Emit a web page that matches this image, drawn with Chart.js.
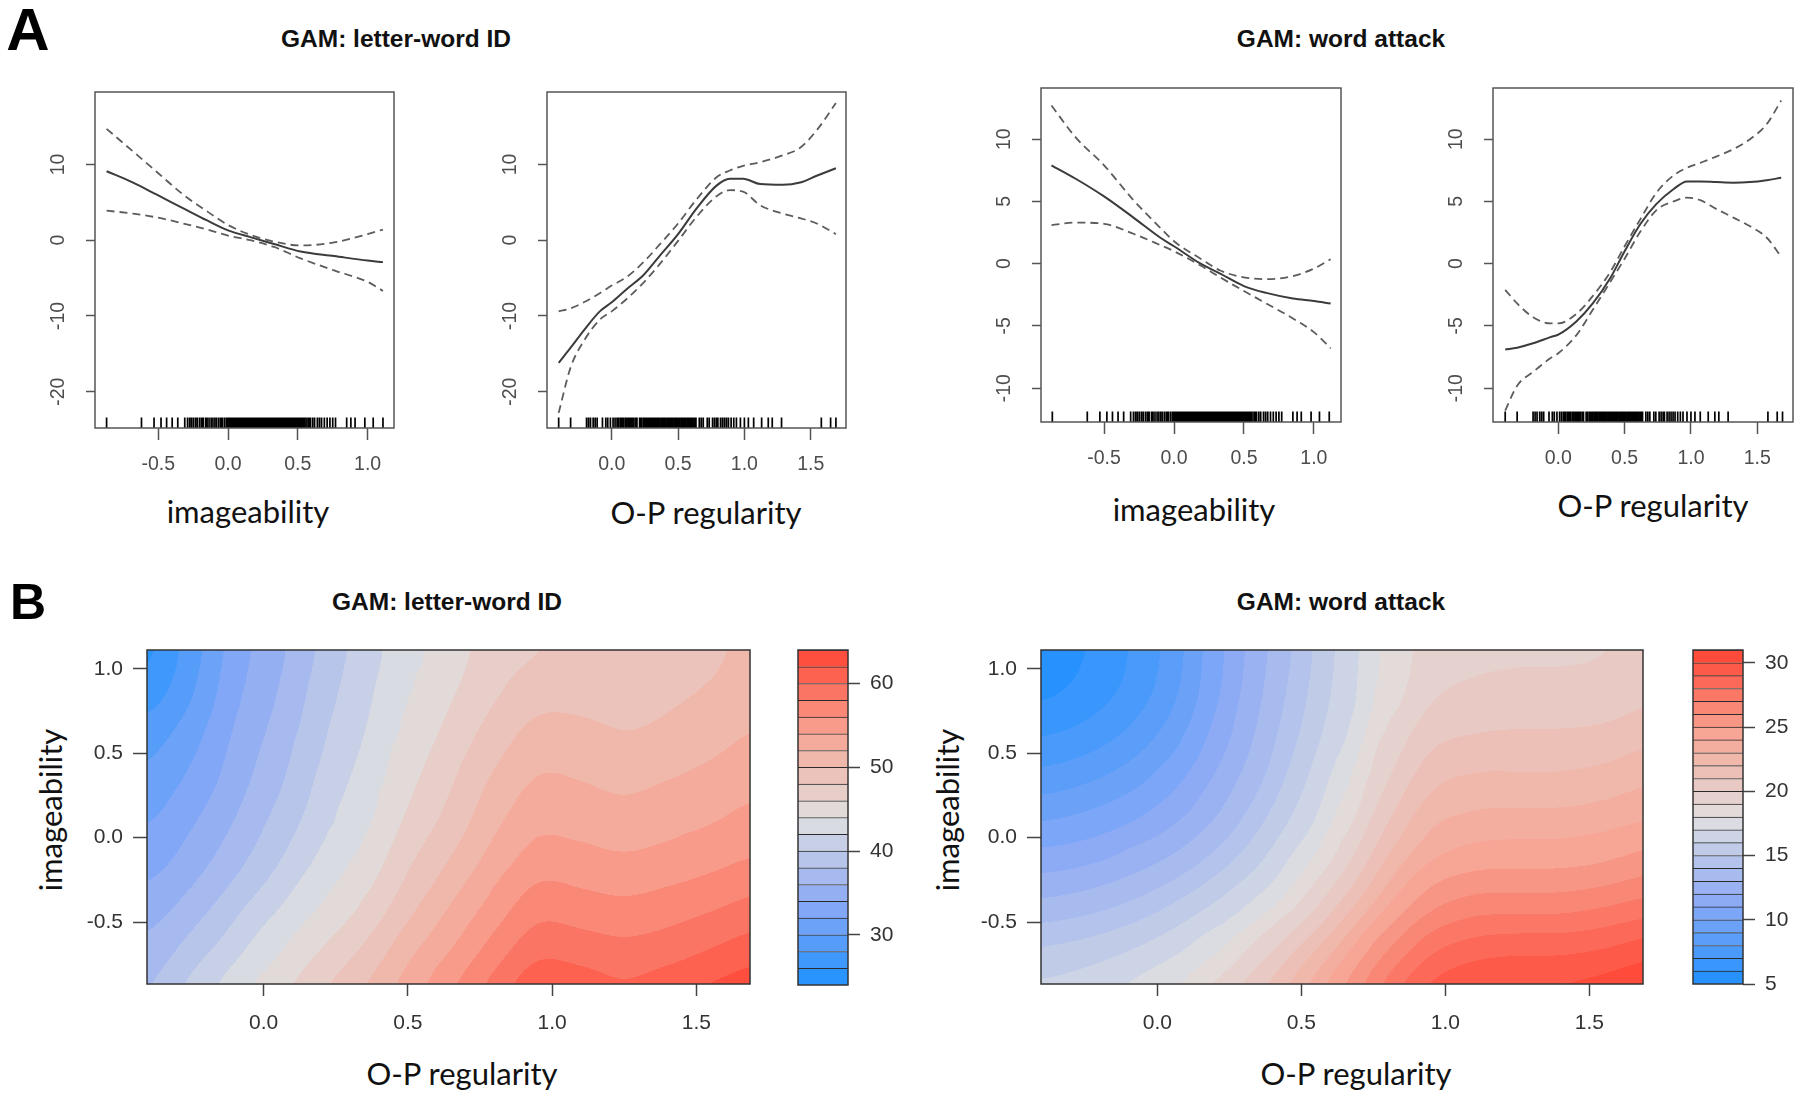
<!DOCTYPE html>
<html>
<head>
<meta charset="utf-8">
<title>GAM: letter-word ID / word attack</title>
<script src="https://cdn.jsdelivr.net/npm/chart.js@4.4.1/dist/chart.umd.min.js"></script>
<style>
  body { margin: 0; background: #fff; }
  #page { position: relative; width: 1800px; height: 1097px; overflow: hidden; background: #fff; }
  canvas { position: absolute; }
  .t { position: absolute; white-space: nowrap; line-height: 1; transform: translate(-50%, -50%); color: #111; }
  .letter { font: bold 60px "Liberation Sans", Arial, sans-serif; color: #000; }
  .title { font: bold 24.5px "Liberation Sans", Arial, sans-serif; color: #111; }
  .axt { font: 31px Lato, "Open Sans", sans-serif; color: #111; }
  .rot { transform: translate(-50%, -50%) rotate(-90deg); }
</style>
</head>
<body>
<div id="page">
  <div class="t letter" style="left:28px;top:29px">A</div>
  <div class="t title" style="left:396px;top:39px">GAM: letter-word ID</div>
  <div class="t title" style="left:1341px;top:39px">GAM: word attack</div>
  <canvas id="a1"></canvas>
  <canvas id="a2"></canvas>
  <canvas id="a3"></canvas>
  <canvas id="a4"></canvas>
  <div class="t axt" style="left:248px;top:511px">imageability</div>
  <div class="t axt" style="left:706px;top:512px">O-P regularity</div>
  <div class="t axt" style="left:1194px;top:509px">imageability</div>
  <div class="t axt" style="left:1653px;top:505px">O-P regularity</div>

  <div class="t letter" style="left:28px;top:602px;font-size:50px">B</div>
  <div class="t title" style="left:447px;top:602px">GAM: letter-word ID</div>
  <div class="t title" style="left:1341px;top:602px">GAM: word attack</div>
  <canvas id="b1"></canvas>
  <canvas id="k1"></canvas>
  <canvas id="b2"></canvas>
  <canvas id="k2"></canvas>
  <div class="t axt rot" style="left:50px;top:810px">imageability</div>
  <div class="t axt rot" style="left:947px;top:810px">imageability</div>
  <div class="t axt" style="left:462px;top:1073px">O-P regularity</div>
  <div class="t axt" style="left:1356px;top:1073px">O-P regularity</div>
</div>
<script>
// ---- A: smooth terms (fit and +/- 2 se) ----
const imgTicksX = [-0.5, 0, 0.5, 1.0];
const opTicksX = [0, 0.5, 1.0, 1.5];
const lwTicksY = [-20, -10, 0, 10];
const waTicksY = [-10, -5, 0, 5, 10];

const lwImgX = [-0.87, -0.68, -0.51, -0.32, -0.15, 0.0, 0.16, 0.33, 0.52, 0.76, 1.0, 1.11];
const lwImgFit = [9.1, 7.6, 6.0, 4.2, 2.6, 1.3, 0.4, -0.5, -1.5, -2.1, -2.7, -2.9];
const lwImgUpper = [14.7, 11.7, 9.0, 6.0, 3.8, 2.0, 0.7, -0.2, -0.7, -0.3, 0.8, 1.4];
const lwImgLower = [3.9, 3.5, 3.0, 2.2, 1.4, 0.6, 0.0, -0.9, -2.4, -4.0, -5.5, -6.7];

const lwOpX = [-0.40, -0.31, -0.21, -0.09, 0.0, 0.11, 0.24, 0.36, 0.50, 0.64, 0.79, 0.89, 0.99, 1.12, 1.29, 1.42, 1.545, 1.69];
const lwOpFit = [-16.2, -14.2, -11.9, -9.4, -8.2, -6.5, -4.6, -2.1, 0.8, 4.2, 7.2, 8.1, 8.1, 7.4, 7.3, 7.6, 8.5, 9.5];
const lwOpUpper = [-9.4, -9.0, -8.2, -7.0, -6.0, -4.9, -2.9, -0.6, 2.2, 5.4, 8.3, 9.2, 9.8, 10.3, 11.2, 12.2, 14.5, 18.1];
const lwOpLower = [-22.8, -16.8, -13.3, -10.5, -9.4, -7.8, -5.6, -3.2, -0.1, 3.1, 5.8, 6.6, 6.4, 4.6, 3.5, 2.9, 2.2, 0.8];

const waImgX = [-0.876, -0.70, -0.50, -0.29, -0.10, 0.0, 0.19, 0.33, 0.50, 0.66, 0.85, 1.0, 1.12];
const waImgFit = [7.9, 6.8, 5.4, 3.7, 2.1, 1.4, 0.0, -0.8, -1.8, -2.35, -2.8, -3.0, -3.2];
const waImgUpper = [12.7, 10.1, 7.9, 5.1, 2.9, 1.8, 0.4, -0.55, -1.1, -1.25, -1.0, -0.4, 0.35];
const waImgLower = [3.1, 3.3, 3.2, 2.4, 1.5, 1.0, -0.15, -1.1, -2.2, -3.2, -4.4, -5.5, -6.8];

const waOpX = [-0.40, -0.31, -0.19, -0.06, 0.0, 0.14, 0.26, 0.39, 0.50, 0.62, 0.74, 0.87, 0.97, 1.07, 1.19, 1.32, 1.445, 1.57, 1.68];
const waOpFit = [-6.9, -6.75, -6.4, -5.9, -5.7, -4.6, -3.2, -1.2, 1.0, 3.2, 4.8, 6.0, 6.6, 6.6, 6.55, 6.5, 6.55, 6.7, 6.9];
const waOpUpper = [-2.1, -3.2, -4.3, -4.8, -4.8, -4.0, -2.6, -0.7, 1.4, 3.6, 5.7, 7.1, 7.7, 8.1, 8.6, 9.2, 10.0, 11.2, 13.1];
const waOpLower = [-11.8, -9.8, -8.7, -7.6, -7.2, -5.7, -3.7, -1.5, 0.4, 2.6, 4.3, 5.0, 5.3, 5.1, 4.4, 3.7, 3.0, 2.1, 0.55];

// rug (observed covariate values)
const rugImageability = [-0.87, -0.62, -0.53, -0.48, -0.44, -0.40, -0.36, -0.31, -0.29, -0.275, -0.262, -0.248, -0.233, -0.22, -0.204,
  -0.19, -0.178, -0.161, -0.15, -0.136, -0.121, -0.108, -0.094, -0.081, -0.066, -0.052, -0.041, -0.026, -0.012, 0.0, 0.011,
  0.023, 0.035, 0.046, 0.058, 0.069, 0.08, 0.092, 0.104, 0.115, 0.126, 0.138, 0.149, 0.161, 0.173, 0.184, 0.195, 0.207,
  0.219, 0.23, 0.241, 0.253, 0.265, 0.276, 0.287, 0.299, 0.31, 0.322, 0.334, 0.345, 0.356, 0.368, 0.379, 0.391, 0.403,
  0.414, 0.425, 0.437, 0.449, 0.46, 0.471, 0.483, 0.495, 0.506, 0.517, 0.529, 0.541, 0.552, 0.565, 0.578, 0.59, 0.606,
  0.62, 0.64, 0.655, 0.67, 0.69, 0.71, 0.73, 0.75, 0.77, 0.85, 0.88, 0.91, 0.98, 1.04, 1.11];
const rugRegularity = [-0.40, -0.31, -0.19, -0.175, -0.16, -0.14, -0.125, -0.11, -0.07, -0.045, -0.03, -0.01, 0.01, 0.025,
  0.04, 0.052, 0.066, 0.078, 0.09, 0.104, 0.115, 0.128, 0.141, 0.152, 0.165, 0.179, 0.19, 0.21, 0.222, 0.236, 0.247,
  0.26, 0.273, 0.285, 0.297, 0.31, 0.323, 0.335, 0.347, 0.36, 0.373, 0.385, 0.397, 0.41, 0.423, 0.435, 0.447, 0.46,
  0.473, 0.485, 0.497, 0.51, 0.523, 0.535, 0.547, 0.56, 0.573, 0.585, 0.597, 0.61, 0.623, 0.635, 0.66, 0.675, 0.69,
  0.72, 0.735, 0.76, 0.775, 0.79, 0.80, 0.82, 0.835, 0.85, 0.865, 0.88, 0.90, 0.92, 0.94, 0.97, 1.0, 1.03, 1.07,
  1.13, 1.18, 1.21, 1.28, 1.58, 1.65, 1.69];

// ---- B: fitted surfaces, rows from top (imageability high) to bottom ----
const gridX = [-0.40, -0.25, -0.10, 0.05, 0.20, 0.35, 0.50, 0.65, 0.80, 0.95, 1.10, 1.25, 1.40, 1.55, 1.70];
const gridY = [1.10, 0.85, 0.60, 0.35, 0.10, -0.15, -0.40, -0.65, -0.90];
const lwSurface = [
  [25.5, 29.0, 33.0, 35.5, 38.5, 41.0, 43.3, 45.2, 47.0, 48.0, 48.6, 48.9, 49.1, 49.6, 50.4],
  [27.0, 29.8, 33.5, 36.0, 39.0, 41.5, 44.0, 45.9, 47.8, 49.3, 49.4, 49.3, 49.6, 50.2, 51.0],
  [29.0, 31.2, 34.2, 36.8, 39.7, 42.1, 44.7, 46.8, 49.0, 50.8, 50.6, 50.1, 50.5, 51.3, 52.1],
  [30.5, 32.4, 35.0, 37.6, 40.4, 42.8, 45.5, 47.8, 50.3, 52.2, 51.9, 51.4, 51.9, 52.6, 53.4],
  [31.8, 33.6, 36.0, 38.6, 41.3, 43.6, 46.4, 48.8, 51.5, 53.5, 53.2, 52.8, 53.3, 54.0, 54.7],
  [33.2, 35.0, 37.4, 40.0, 42.6, 44.8, 47.7, 50.2, 53.0, 55.2, 54.9, 54.5, 54.9, 55.5, 56.3],
  [34.8, 36.8, 39.3, 41.8, 44.2, 46.3, 49.3, 52.0, 54.8, 57.2, 56.8, 56.4, 56.9, 57.6, 58.5],
  [36.5, 38.8, 41.3, 43.8, 46.0, 48.2, 51.2, 54.0, 56.8, 59.4, 58.9, 58.4, 59.0, 60.0, 61.0],
  [38.0, 40.6, 43.2, 45.5, 47.8, 50.0, 53.0, 55.9, 58.8, 61.8, 61.3, 60.4, 61.3, 62.3, 63.2]
];
const waSurface = [
  [5.2, 6.0, 7.0, 8.4, 10.6, 12.6, 14.5, 16.4, 18.3, 19.5, 19.8, 19.9, 19.9, 20.0, 20.3],
  [5.8, 6.4, 7.3, 8.7, 10.8, 12.8, 14.7, 16.6, 18.5, 19.9, 20.2, 20.3, 20.3, 20.4, 20.8],
  [7.0, 7.4, 8.2, 9.5, 11.3, 13.2, 15.1, 17.0, 19.2, 20.7, 21.1, 21.2, 21.2, 21.3, 21.7],
  [8.4, 8.8, 9.5, 10.6, 12.1, 13.8, 15.7, 17.7, 20.0, 21.7, 22.2, 22.2, 22.2, 22.4, 22.8],
  [10.0, 10.3, 10.9, 11.8, 13.1, 14.7, 16.5, 18.6, 21.0, 22.8, 23.3, 23.4, 23.4, 23.6, 24.0],
  [11.6, 11.9, 12.5, 13.3, 14.5, 15.9, 17.6, 19.7, 22.3, 24.1, 24.7, 24.8, 24.8, 25.0, 25.5],
  [13.3, 13.6, 14.2, 15.0, 16.1, 17.4, 19.1, 21.4, 23.9, 25.8, 26.5, 26.6, 26.6, 26.9, 27.4],
  [15.0, 15.3, 15.9, 16.7, 17.8, 19.3, 21.2, 23.5, 25.9, 27.8, 28.5, 28.7, 28.7, 29.0, 29.5],
  [16.3, 16.6, 17.2, 18.0, 19.2, 20.8, 22.8, 25.1, 27.5, 29.3, 30.0, 30.2, 30.2, 30.5, 31.0]
];
const lwLevels = [24, 26, 28, 30, 32, 34, 36, 38, 40, 42, 44, 46, 48, 50, 52, 54, 56, 58, 60, 62, 64];
const waLevels = [5, 6, 7, 8, 9, 10, 11, 12, 13, 14, 15, 16, 17, 18, 19, 20, 21, 22, 23, 24, 25, 26, 27, 28, 29, 30, 31];
const heatTicksX = [0, 0.5, 1.0, 1.5];
const heatTicksY = [-0.5, 0, 0.5, 1.0];
const lwKeyTicks = [30, 40, 50, 60];
const waKeyTicks = [5, 10, 15, 20, 25, 30];

Chart.defaults.font.family = '"Liberation Sans", Arial, sans-serif';

// blue -> grey -> red
const rampStops = [[30, 144, 255], [141, 170, 245], [224, 224, 224], [247, 165, 148], [255, 68, 51]];
function ramp(t) {
    t = Math.min(1, Math.max(0, t));
    const f = t * (rampStops.length - 1);
    const i = Math.min(rampStops.length - 2, Math.floor(f));
    const u = f - i;
    return rampStops[i].map((c, k) => Math.round(c + (rampStops[i + 1][k] - c) * u));
}
const rgb = c => `rgb(${c[0]},${c[1]},${c[2]})`;

function bandColours(levels) {
    const lo = levels[0], hi = levels[levels.length - 1];
    return levels.slice(0, -1).map((v, i) => ramp(((v + levels[i + 1]) / 2 - lo) / (hi - lo)));
}

function place(id, left, top, width, height) {
    const c = document.getElementById(id);
    c.style.left = left + 'px';
    c.style.top = top + 'px';
    c.width = width;
    c.height = height;
    return c;
}

function fixSize(w, h) {
    return s => {
        if (w !== null) s.width = w;
        if (h !== null) s.height = h;
        s.paddingLeft = s.paddingRight = s.paddingTop = s.paddingBottom = 0;
    };
}

function frame(color, width) {
    return {
        id: 'frame',
        afterDraw(chart) {
            const { ctx, chartArea: a } = chart;
            ctx.save();
            ctx.strokeStyle = color;
            ctx.lineWidth = width;
            ctx.strokeRect(a.left, a.top, a.right - a.left, a.bottom - a.top);
            ctx.restore();
        }
    };
}

function rugMarks(values) {
    return {
        id: 'rug',
        afterDatasetsDraw(chart) {
            const { ctx, chartArea: a, scales: { x } } = chart;
            ctx.save();
            ctx.strokeStyle = '#000';
            ctx.lineWidth = 1.7;
            ctx.beginPath();
            values.forEach(v => {
                const px = x.getPixelForValue(v);
                ctx.moveTo(px, a.bottom);
                ctx.lineTo(px, a.bottom - 10.5);
            });
            ctx.stroke();
            ctx.restore();
        }
    };
}

// R style: y tick labels turned parallel to the axis
function sideLabels(color, font, offset) {
    return {
        id: 'sideLabels',
        afterDraw(chart) {
            const { ctx, chartArea: a, scales: { y } } = chart;
            ctx.save();
            ctx.fillStyle = color;
            ctx.font = font;
            ctx.textAlign = 'center';
            ctx.textBaseline = 'middle';
            y.ticks.forEach(t => {
                ctx.save();
                ctx.translate(a.left - offset, y.getPixelForValue(t.value));
                ctx.rotate(-Math.PI / 2);
                ctx.fillText(String(t.value), 0, 0);
                ctx.restore();
            });
            ctx.restore();
        }
    };
}

// filled-contour look: grid image smoothed by the browser, then snapped to the band colours
function surfaceLayer(surface, levels) {
    return {
        id: 'surface',
        beforeDatasetsDraw(chart) {
            const { ctx, chartArea: a, scales: { x, y } } = chart;
            const lo = levels[0], hi = levels[levels.length - 1];
            const nx = gridX.length, ny = gridY.length;
            const img = document.createElement('canvas');
            img.width = nx + 2;
            img.height = ny + 2;
            const g = img.getContext('2d');
            const id = g.createImageData(nx + 2, ny + 2);
            for (let j = 0; j < ny + 2; j++) {
                for (let i = 0; i < nx + 2; i++) {
                    const jj = Math.min(ny - 1, Math.max(0, j - 1));
                    const ii = Math.min(nx - 1, Math.max(0, i - 1));
                    const c = ramp((surface[jj][ii] - lo) / (hi - lo));
                    const k = (j * (nx + 2) + i) * 4;
                    id.data[k] = c[0]; id.data[k + 1] = c[1]; id.data[k + 2] = c[2]; id.data[k + 3] = 255;
                }
            }
            g.putImageData(id, 0, 0);
            const x0 = x.getPixelForValue(gridX[0]), x1 = x.getPixelForValue(gridX[nx - 1]);
            const y0 = y.getPixelForValue(gridY[0]), y1 = y.getPixelForValue(gridY[ny - 1]);
            const cw = (x1 - x0) / (nx - 1), ch = (y1 - y0) / (ny - 1);

            const w = Math.ceil(a.right - a.left), h = Math.ceil(a.bottom - a.top);
            const off = document.createElement('canvas');
            off.width = w;
            off.height = h;
            const o = off.getContext('2d');
            o.imageSmoothingEnabled = true;
            o.imageSmoothingQuality = 'high';
            o.drawImage(img, x0 - cw * 1.5 - a.left, y0 - ch * 1.5 - a.top, cw * (nx + 2), ch * (ny + 2));
            const pix = o.getImageData(0, 0, w, h);
            const bands = bandColours(levels);
            const d = pix.data;
            for (let k = 0; k < d.length; k += 4) {
                let best = 0, bd = Infinity;
                for (let b = 0; b < bands.length; b++) {
                    const dr = d[k] - bands[b][0], dg = d[k + 1] - bands[b][1], db = d[k + 2] - bands[b][2];
                    const dist = dr * dr + dg * dg + db * db;
                    if (dist < bd) { bd = dist; best = b; }
                }
                d[k] = bands[best][0]; d[k + 1] = bands[best][1]; d[k + 2] = bands[best][2]; d[k + 3] = 255;
            }
            o.putImageData(pix, 0, 0);
            ctx.save();
            ctx.beginPath();
            ctx.rect(a.left, a.top, a.right - a.left, a.bottom - a.top);
            ctx.clip();
            ctx.drawImage(off, a.left, a.top);
            ctx.restore();
        }
    };
}

function smoothPanel(id, area, xRange, yRange, xTicks, yTicks, xs, fit, upper, lower, rugValues) {
    const yAxisW = 50, xAxisH = 52, padT = 6, padR = 6;
    const [L, T, R, B] = area;
    const cv = place(id, L - yAxisW, T - padT, R - L + yAxisW + padR, B - T + padT + xAxisH);
    const pts = ys => xs.map((x, i) => ({ x: x, y: ys[i] }));
    const dashed = { borderColor: '#5c5c5c', borderWidth: 1.8, borderDash: [8, 5] };
    new Chart(cv, {
        type: 'line',
        data: {
            datasets: [
                Object.assign({ data: pts(upper) }, dashed),
                Object.assign({ data: pts(lower) }, dashed),
                { data: pts(fit), borderColor: '#3b3b3b', borderWidth: 2 }
            ]
        },
        options: {
            responsive: false,
            animation: false,
            events: [],
            layout: { padding: { top: padT, right: padR, left: 0, bottom: 0 } },
            elements: { point: { radius: 0 }, line: { cubicInterpolationMode: 'monotone', fill: false } },
            plugins: { legend: { display: false }, tooltip: { enabled: false } },
            scales: {
                x: {
                    type: 'linear', min: xRange[0], max: xRange[1],
                    afterBuildTicks: s => { s.ticks = xTicks.map(v => ({ value: v })); },
                    afterFit: fixSize(null, xAxisH),
                    border: { display: false },
                    grid: { drawOnChartArea: false, tickLength: 12, tickColor: '#555', tickWidth: 1.5 },
                    ticks: { color: '#4d4d4d', font: { size: 19.5 }, padding: 13, maxRotation: 0, autoSkip: false,
                             callback: v => v.toFixed(1) }
                },
                y: {
                    type: 'linear', min: yRange[0], max: yRange[1],
                    afterBuildTicks: s => { s.ticks = yTicks.map(v => ({ value: v })); },
                    afterFit: fixSize(yAxisW, null),
                    border: { display: false },
                    grid: { drawOnChartArea: false, tickLength: 9, tickColor: '#555', tickWidth: 1.5 },
                    ticks: { display: false }
                }
            }
        },
        plugins: [rugMarks(rugValues), sideLabels('#4d4d4d', '19.5px "Liberation Sans", Arial, sans-serif', 36), frame('#555', 1.5)]
    });
}

function surfacePanel(id, area, surface, levels) {
    const yAxisW = 62, xAxisH = 60, padT = 12, padR = 8;
    const [L, T, R, B] = area;
    const cv = place(id, L - yAxisW, T - padT, R - L + yAxisW + padR, B - T + padT + xAxisH);
    new Chart(cv, {
        type: 'scatter',
        data: { datasets: [] },
        options: {
            responsive: false,
            animation: false,
            events: [],
            layout: { padding: { top: padT, right: padR, left: 0, bottom: 0 } },
            plugins: { legend: { display: false }, tooltip: { enabled: false } },
            scales: {
                x: {
                    type: 'linear', min: -0.404, max: 1.686,
                    afterBuildTicks: s => { s.ticks = heatTicksX.map(v => ({ value: v })); },
                    afterFit: fixSize(null, xAxisH),
                    border: { display: false },
                    grid: { drawOnChartArea: false, tickLength: 12, tickColor: '#444', tickWidth: 1.5 },
                    ticks: { color: '#333', font: { size: 21 }, padding: 15, maxRotation: 0, autoSkip: false,
                             callback: v => v.toFixed(1) }
                },
                y: {
                    type: 'linear', min: -0.866, max: 1.111,
                    afterBuildTicks: s => { s.ticks = heatTicksY.map(v => ({ value: v })); },
                    afterFit: fixSize(yAxisW, null),
                    border: { display: false },
                    grid: { drawOnChartArea: false, tickLength: 14, tickColor: '#444', tickWidth: 1.5 },
                    ticks: { color: '#333', font: { size: 21 }, padding: 10, callback: v => v.toFixed(1) }
                }
            }
        },
        plugins: [surfaceLayer(surface, levels), frame('#333', 1.5)]
    });
}

function keyPanel(id, area, axisW, levels, ticks) {
    const padL = 6, padT = 12, padB = 12;
    const [L, T, R, B] = area;
    const cv = place(id, L - padL, T - padT, R - L + padL + axisW, B - T + padT + padB);
    const lo = levels[0], hi = levels[levels.length - 1];
    const colours = bandColours(levels);
    const bands = levels.slice(0, -1).map((v, i) => ({
        data: [[v, levels[i + 1]]],
        backgroundColor: rgb(colours[i]),
        borderColor: '#2b2b2b',
        borderWidth: { top: 1, bottom: 0, left: 0, right: 0 },
        borderSkipped: false,
        grouped: false,
        barPercentage: 1,
        categoryPercentage: 1
    }));
    new Chart(cv, {
        type: 'bar',
        data: { labels: [''], datasets: bands },
        options: {
            responsive: false,
            animation: false,
            events: [],
            layout: { padding: { top: padT, bottom: padB, left: padL, right: 0 } },
            plugins: { legend: { display: false }, tooltip: { enabled: false } },
            scales: {
                x: { display: false },
                y: {
                    position: 'right', min: lo, max: hi,
                    afterBuildTicks: s => { s.ticks = ticks.map(v => ({ value: v })); },
                    afterFit: fixSize(axisW, null),
                    border: { display: false },
                    grid: { drawOnChartArea: false, tickLength: 12, tickColor: '#444', tickWidth: 1.5 },
                    ticks: { color: '#333', font: { size: 21 }, padding: 10, callback: v => String(v) }
                }
            }
        },
        plugins: [frame('#333', 1.5)]
    });
}

window.onload = function () {
    smoothPanel('a1', [95, 92, 394, 428], [-0.953, 1.189], [-24.8, 19.56], imgTicksX, lwTicksY,
        lwImgX, lwImgFit, lwImgUpper, lwImgLower, rugImageability);
    smoothPanel('a2', [547, 92, 846, 428], [-0.488, 1.766], [-24.8, 19.56], opTicksX, lwTicksY,
        lwOpX, lwOpFit, lwOpUpper, lwOpLower, rugRegularity);
    smoothPanel('a3', [1041, 88, 1341, 422], [-0.951, 1.194], [-12.72, 14.11], imgTicksX, waTicksY,
        waImgX, waImgFit, waImgUpper, waImgLower, rugImageability);
    smoothPanel('a4', [1493, 88, 1793, 422], [-0.492, 1.769], [-12.72, 14.11], opTicksX, waTicksY,
        waOpX, waOpFit, waOpUpper, waOpLower, rugRegularity);

    surfacePanel('b1', [147, 650, 750, 984], lwSurface, lwLevels);
    keyPanel('k1', [798, 650, 848, 985], 62, lwLevels, lwKeyTicks);
    surfacePanel('b2', [1041, 650, 1643, 984], waSurface, waLevels);
    keyPanel('k2', [1693, 650, 1743, 984], 57, waLevels, waKeyTicks);
};
</script>
</body>
</html>
